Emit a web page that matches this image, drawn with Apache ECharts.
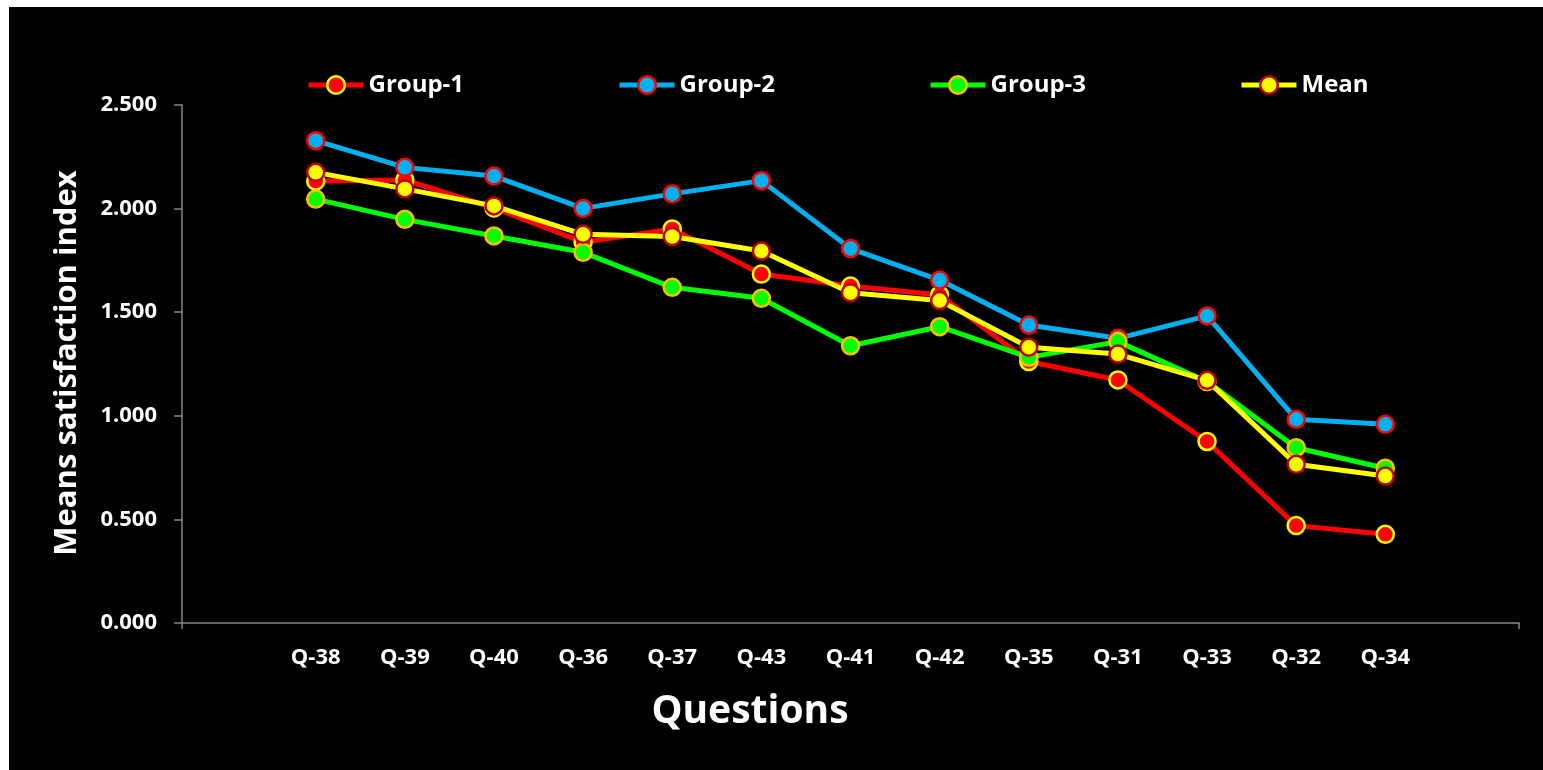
<!DOCTYPE html>
<html>
<head>
<meta charset="utf-8">
<script src="https://cdn.jsdelivr.net/npm/echarts@6/dist/echarts.min.js"></script>
<style>
  html, body { margin: 0; padding: 0; background: #fff; }
  #chart { position: absolute; left: 9px; top: 7px; width: 1534px; height: 763px; background: #000; }
</style>
</head>
<body>
<div id="chart"></div>
<script>
// questions on the x axis
const questions = ['Q-38', 'Q-39', 'Q-40', 'Q-36', 'Q-37', 'Q-43', 'Q-41', 'Q-42', 'Q-35', 'Q-31', 'Q-33', 'Q-32', 'Q-34']
// mean satisfaction index per group
const group1 = [2.133, 2.138, 2.003, 1.838, 1.902, 1.684, 1.626, 1.583, 1.262, 1.173, 0.876, 0.470, 0.428]
const group2 = [2.328, 2.199, 2.157, 2.001, 2.071, 2.135, 1.807, 1.655, 1.438, 1.374, 1.482, 0.983, 0.959]
const group3 = [2.046, 1.948, 1.868, 1.789, 1.620, 1.567, 1.338, 1.430, 1.282, 1.358, 1.165, 0.846, 0.747]
const meanAll = [2.175, 2.095, 2.013, 1.876, 1.865, 1.795, 1.594, 1.556, 1.331, 1.298, 1.171, 0.766, 0.709]
// y axis ticks
const yMin = 0
const yMax = 2.5
const yStep = 0.5

const font = 'Open Sans'
const axisGray = '#868686'

// one empty slot on each side of the questions, like the original
const xCats = [''].concat(questions, [''])
const pad = arr => ['-'].concat(arr, ['-'])

function makeSeries (name, values, fill, border) {
  return {
    name: name,
    type: 'line',
    data: pad(values),
    symbol: 'circle',
    symbolSize: 17,
    lineStyle: { color: fill, width: 5 },
    itemStyle: { color: fill, borderColor: border, borderWidth: 2.5 },
    emphasis: { disabled: true },
    animation: false
  }
}

function makeLegend (name, left) {
  return {
    data: [name],
    left: left,
    top: 66,
    padding: 0,
    itemWidth: 55,
    itemHeight: 22,
    itemGap: 0,
    lineStyle: { width: 5 },
    itemStyle: { borderWidth: 2.5 },
    textStyle: { color: '#fff', fontFamily: font, fontWeight: 'bold', fontSize: 24 }
  }
}

const tickStyle = { color: axisGray, width: 1.5 }

const chart = echarts.init(document.getElementById('chart'))

chart.setOption({
  backgroundColor: '#000',
  animation: false,
  grid: { left: 173, right: 24, top: 98, bottom: 147 },
  legend: [
    makeLegend('Group-1', 297),
    makeLegend('Group-2', 608),
    makeLegend('Group-3', 919),
    makeLegend('Mean', 1230)
  ],
  xAxis: [
    {
      type: 'category',
      data: xCats,
      boundaryGap: true,
      axisLine: { lineStyle: tickStyle },
      axisTick: { alignWithLabel: true, length: 6, lineStyle: tickStyle },
      axisLabel: { color: '#fff', fontFamily: font, fontWeight: 'bold', fontSize: 22, margin: 24, interval: 0 }
    },
    {
      // inner half of the crossing tick marks
      type: 'category',
      data: xCats,
      position: 'bottom',
      boundaryGap: true,
      axisLine: { show: false },
      axisTick: { alignWithLabel: true, inside: true, length: 6, lineStyle: tickStyle },
      axisLabel: { show: false }
    },
    {
      // tick at the right end of the axis
      type: 'value',
      position: 'bottom',
      min: 0,
      max: 1,
      interval: 1,
      axisLine: { show: false },
      axisTick: { show: true, length: 6, lineStyle: tickStyle },
      axisLabel: { show: false },
      splitLine: { show: false }
    }
  ],
  yAxis: {
    type: 'value',
    min: yMin,
    max: yMax,
    interval: yStep,
    splitLine: { show: false },
    axisLine: { show: true, lineStyle: tickStyle },
    axisTick: { show: true, length: 8, lineStyle: tickStyle },
    axisLabel: {
      color: '#fff',
      fontFamily: font,
      fontWeight: 'bold',
      fontSize: 22,
      margin: 25,
      formatter: v => v.toFixed(3)
    }
  },
  graphic: [
    {
      type: 'text',
      x: 58,
      y: 356,
      rotation: Math.PI / 2,
      style: {
        text: 'Means satisfaction index',
        fill: '#fff',
        font: 'bold 31px "Open Sans"',
        textAlign: 'center',
        textVerticalAlign: 'middle'
      }
    },
    {
      type: 'text',
      x: 741,
      y: 705,
      style: {
        text: 'Questions',
        fill: '#fff',
        font: 'bold 39px "Open Sans"',
        textAlign: 'center',
        textVerticalAlign: 'middle'
      }
    }
  ],
  series: [
    makeSeries('Group-1', group1, '#ff0000', '#ffff00'),
    makeSeries('Group-2', group2, '#00b0f0', '#ff0000'),
    makeSeries('Group-3', group3, '#00ff00', '#ffc000'),
    makeSeries('Mean', meanAll, '#ffff00', '#c00000')
  ]
})
</script>
</body>
</html>
